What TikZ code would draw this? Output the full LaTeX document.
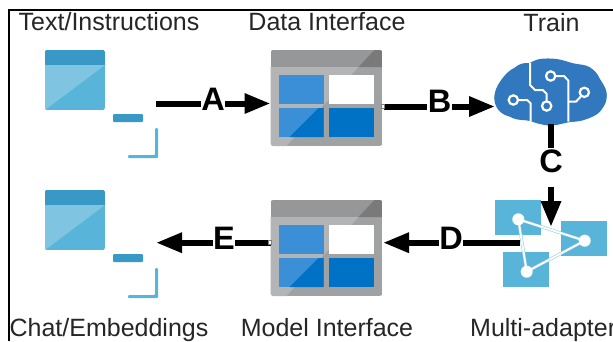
\documentclass[tikz,border=0pt]{standalone}
\usepackage{fontspec}
\setmainfont{Liberation Sans}
\usetikzlibrary{arrows.meta}
\definecolor{docLight}{HTML}{7FC5E1}
\definecolor{docMid}{HTML}{59B4D9}
\definecolor{docHead}{HTML}{3999C6}
\definecolor{tblBody}{HTML}{A0A1A2}
\definecolor{tblLight}{HTML}{B3B4B5}
\definecolor{tblHead}{HTML}{969798}
\definecolor{tblHeadDark}{HTML}{7A7A7A}
\definecolor{cellLight}{HTML}{3A8FD6}
\definecolor{cellDark}{HTML}{0072C6}
\definecolor{brainBlue}{HTML}{3278BE}
\tikzset{
  x=1pt,y=-1pt,
  iconbox/.style={inner sep=0pt,outer sep=0pt,minimum width=#1},
  captext/.style={font=\fontsize{25}{25}\selectfont,color=black!85,inner sep=0pt,anchor=base},
  lab/.style={font=\fontsize{32.5}{32.5}\selectfont\bfseries,fill=white,inner xsep=0.5pt,inner ysep=0pt,text height=24pt,text depth=0pt,anchor=base},
  flow/.style={draw=black,line width=6pt,-{Triangle[length=26pt,width=19pt]}},
  stub/.style={fill=white,draw=gray,line width=0.8pt},
  brainring/.style={draw=white,fill=brainBlue,line width=2.2pt},
  brainwire/.style={draw=white,line width=2pt,line join=round},
  meshedge/.style={draw=docMid!70,line width=3pt},
  meshline/.style={draw=white,line width=1.9pt},
  meshdot/.style={fill=white},
  docicon/.pic={
    \begin{scope}
      \clip[rounded corners=2pt] (0,0) rectangle (60,60);
      \fill[docMid] (0,0) rectangle (60,60);
      \fill[docLight] (0,15) -- (60,15) -- (0,60) -- cycle;
      \fill[docHead] (0,0) rectangle (60,15);
    \end{scope}
    \fill[docHead,rounded corners=1pt] (68,64) rectangle (98,72);
    \fill[docMid,rounded corners=1pt] (110,78) -- (113,78) -- (113,108) -- (83,108) -- (83,105) -- (110,105) -- cycle;
  },
  tableicon/.pic={
    \begin{scope}
      \clip[rounded corners=3pt] (0,0) rectangle (112,96);
      \fill[tblBody] (0,0) rectangle (112,96);
      \fill[tblLight] (0,17) -- (88,17) -- (16,96) -- (0,96) -- cycle;
      \fill[tblHead] (0,0) rectangle (112,17);
      \fill[tblHeadDark] (88,17) -- (104,0) -- (112,0) -- (112,17) -- cycle;
    \end{scope}
    \fill[cellLight] (8,25) rectangle (53,54);
    \fill[white] (58,25) rectangle (103,54);
    \fill[cellLight] (8,58) rectangle (53,87);
    \fill[cellDark] (58,58) rectangle (103,87);
    \fill[cellDark] (53,54) -- (53,87) -- (19,87) -- (48,58) -- (53,58) -- cycle;
  },
}
\begin{document}
\begin{tikzpicture}
\useasboundingbox (0,0) rectangle (613,341);
\fill[white] (0,0) rectangle (613,341);
\draw[black,line width=2pt] (9,341) -- (9,9.5) -- (613,9.5);

% icons
\pic at (45,50) {docicon};
\pic at (45,190) {docicon};
\pic at (270.5,50) {tableicon};
\pic at (270.5,200) {tableicon};

% brain
\begin{scope}[shift={(490,50)},scale=1/3]
  \fill[brainBlue] plot[smooth cycle,tension=0.6] coordinates {
    (14,135) (30,95) (65,58) (115,40) (150,27) (200,27) (250,40) (300,52)
    (335,95) (350,135) (330,185) (282,210) (240,216) (190,226) (150,222)
    (115,212) (70,205) (25,175)};
  \fill[brainBlue] (68,145) circle (55) (110,92) circle (53) (170,75) circle (48)
    (235,85) circle (45) (280,100) circle (50) (298,140) circle (52)
    (175,170) circle (56) (105,160) circle (50) (250,165) circle (50);
  \draw[brainwire] (120,38) -- (120,105) -- (135,120) -- (158,120) -- (170,132) -- (170,155);
  \draw[brainwire] (85,150) -- (112,150) -- (122,160) -- (122,215);
  \draw[brainwire] (197,78) -- (222,78) -- (235,92) -- (235,215);
  \draw[brainwire] (272,140) -- (258,155) -- (235,155);
  \draw[brainring] (70,150) circle (14);
  \draw[brainring] (170,168) circle (14);
  \draw[brainring] (182,78) circle (14);
  \draw[brainring] (283,127) circle (14);
\end{scope}

% adapter
\fill[docMid] (495,200) rectangle (541,235);
\fill[docMid] (561,221) rectangle (607,256);
\fill[docMid] (503,252) rectangle (549,287);

% named extents of the icons
\node[iconbox=111pt,minimum height=108pt] (doctop) at (100.5,104) {};
\node[iconbox=111pt,minimum height=108pt] (docbot) at (100.5,242.7) {};
\node[iconbox=113pt,minimum height=96pt] (data) at (327,98) {};
\node[iconbox=113pt,minimum height=96pt] (model) at (327,248) {};
\node[iconbox=112pt,minimum height=65pt] (train) at (551,91.5) {};
\coordinate (adapterTop) at (551,227);
\coordinate (adapterPort) at (520,242.7);

% connectors
\draw[flow] (doctop.east) ++(0,-0.5) coordinate (aS) -- (data.west |- aS);
\coordinate (bS) at (384,106.5);
\draw[flow] (bS) -- (train.west |- bS);
\draw[flow] (train.south) -- (adapterTop);
\coordinate (dE) at (383,242.7);
\draw[flow] (adapterPort) -- (dE);
\draw[flow] (model.west |- docbot.east) -- (docbot.east);

\fill[stub] (381,104.5) rectangle (384,108.5);
\fill[stub] (268,240.7) rectangle (271,244.7);

% adapter mesh, over the arrows
\draw[meshedge,line join=round] (518.3,219.3) -- (584.7,240.7) -- (526.7,271.7) -- cycle;
\draw[meshline,line join=round] (518.3,219.3) -- (584.7,240.7) -- (526.7,271.7) -- cycle;
\fill[meshdot] (518.3,219.3) circle (6);
\fill[meshdot] (584.7,240.7) circle (6);
\fill[meshdot] (526.7,271.7) circle (6);

% connector labels
\node[lab] (la) at (213,110.7) {A};
\node[lab] (lb) at (439.5,112) {B};
\node[lab,text height=25pt,text depth=14pt] (lc) at (551,172.5) {C};
\node[lab] (ld) at (451,249.5) {D};
\node[lab] (le) at (224,249.5) {E};

% captions
\node[captext] (c1) at (109,30) {Text/Instructions};
\node[captext] (c2) at (327,30) {Data Interface};
\node[captext] (c3) at (551.5,31.5) {Train};
\node[captext] (c4) at (109,336) {Chat/Embeddings};
\node[captext] (c5) at (327,336) {Model Interface};
\node[captext,anchor=base west] (c6) at (470,336) {Multi-adapter};
\end{tikzpicture}
\end{document}
